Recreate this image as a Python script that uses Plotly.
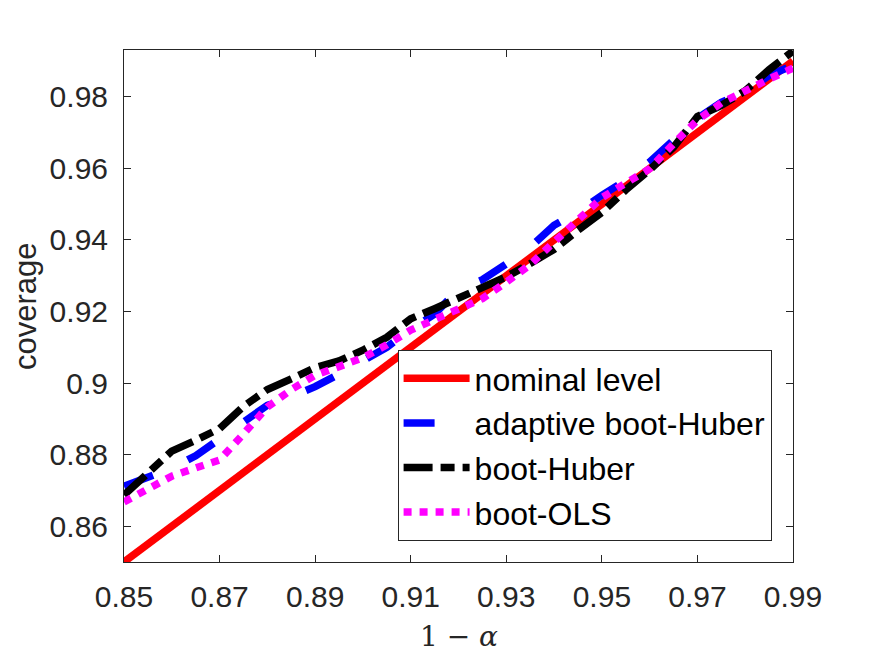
import plotly.graph_objects as go

x_vals = [0.850, 0.855, 0.860, 0.865, 0.870, 0.875, 0.880, 0.885, 0.890, 0.895,
          0.900, 0.905, 0.910, 0.915, 0.920, 0.925, 0.930, 0.935, 0.940, 0.945,
          0.950, 0.955, 0.960, 0.965, 0.970, 0.975, 0.980, 0.985, 0.990]

nominal_level = [0.850, 0.855, 0.860, 0.865, 0.870, 0.875, 0.880, 0.885, 0.890, 0.895,
                 0.900, 0.905, 0.910, 0.915, 0.920, 0.925, 0.930, 0.935, 0.940, 0.945,
                 0.950, 0.955, 0.960, 0.965, 0.970, 0.975, 0.980, 0.985, 0.990]

adaptive_boot_huber = [0.8712, 0.8735, 0.8762, 0.8797, 0.8845, 0.8893, 0.8938, 0.8962, 0.8990, 0.9025,
                       0.9060, 0.9100, 0.9150, 0.9193, 0.9262, 0.9289, 0.9333, 0.9380, 0.9441, 0.9479,
                       0.9525, 0.9567, 0.9618, 0.9682, 0.9740, 0.9785, 0.9813, 0.9860, 0.9888]

boot_huber = [0.8687, 0.8750, 0.8810, 0.8840, 0.8873, 0.8935, 0.8982, 0.9012, 0.9043, 0.9062,
              0.9092, 0.9128, 0.9180, 0.9208, 0.9237, 0.9266, 0.9297, 0.9334, 0.9374, 0.9427,
              0.9477, 0.9540, 0.9596, 0.9659, 0.9745, 0.9776, 0.9817, 0.9876, 0.9928]

boot_ols = [0.8668, 0.8705, 0.8740, 0.8763, 0.8785, 0.8858, 0.8933, 0.8982, 0.9022, 0.9046,
            0.9071, 0.9107, 0.9148, 0.9178, 0.9208, 0.9236, 0.9282, 0.9331, 0.9394, 0.9453,
            0.9518, 0.9559, 0.9599, 0.9669, 0.9735, 0.9783, 0.9818, 0.9850, 0.9880]

x_ticks = [0.85, 0.87, 0.89, 0.91, 0.93, 0.95, 0.97, 0.99]
x_tick_text = ["0.85", "0.87", "0.89", "0.91", "0.93", "0.95", "0.97", "0.99"]
y_ticks = [0.86, 0.88, 0.90, 0.92, 0.94, 0.96, 0.98]
y_tick_text = ["0.86", "0.88", "0.9", "0.92", "0.94", "0.96", "0.98"]

AX = "#262626"
FONT = "Liberation Sans, Arial, Helvetica, sans-serif"

fig = go.Figure()
fig.add_trace(go.Scatter(x=x_vals, y=nominal_level, mode="lines", name="nominal level",
                         line=dict(color="#ff0000", width=7.5)))
fig.add_trace(go.Scatter(x=x_vals, y=adaptive_boot_huber, mode="lines", name="adaptive boot-Huber",
                         line=dict(color="#0000ff", width=7.5, dash="31px,38px")))
fig.add_trace(go.Scatter(x=x_vals, y=boot_huber, mode="lines", name="boot-Huber",
                         line=dict(color="#000000", width=7.5, dash="29px,8px,14px,8px")))
fig.add_trace(go.Scatter(x=x_vals, y=boot_ols, mode="lines", name="boot-OLS",
                         line=dict(color="#ff00ff", width=7.5, dash="8px,8px")))

axis_common = dict(showline=True, linecolor=AX, linewidth=1, mirror="ticks",
                   ticks="inside", ticklen=7, tickwidth=1, tickcolor=AX,
                   showgrid=False, zeroline=False,
                   tickfont=dict(family=FONT, size=30, color=AX))

fig.update_xaxes(range=[0.85, 0.99], tickvals=x_ticks, ticktext=x_tick_text,
                 ticklabelstandoff=8, **axis_common)
fig.update_yaxes(range=[0.85, 0.9931], tickvals=y_ticks, ticktext=y_tick_text,
                 ticklabelstandoff=9, **axis_common)

fig.update_layout(
    width=875, height=656,
    margin=dict(l=124, r=82, t=50, b=94, pad=0),
    paper_bgcolor="white", plot_bgcolor="white",
    showlegend=True,
    legend=dict(x=0.968, xanchor="right", y=0.041, yanchor="bottom",
                bgcolor="white", bordercolor=AX, borderwidth=1,
                font=dict(family=FONT, size=32, color="black"),
                tracegroupgap=0, itemwidth=66),
    annotations=[
        dict(text="coverage", xref="paper", yref="paper", x=0, y=0.5,
             xanchor="center", yanchor="middle", xshift=-99, textangle=-90,
             showarrow=False, font=dict(family=FONT, size=31, color=AX)),
        dict(text="1 − <i>α</i>", xref="paper", yref="paper", x=0.5, y=0,
             xanchor="center", yanchor="middle", yshift=-74,
             showarrow=False, font=dict(family="DejaVu Serif, Liberation Serif, serif", size=28, color=AX)),
    ],
)

fig.write_html("out.html")
